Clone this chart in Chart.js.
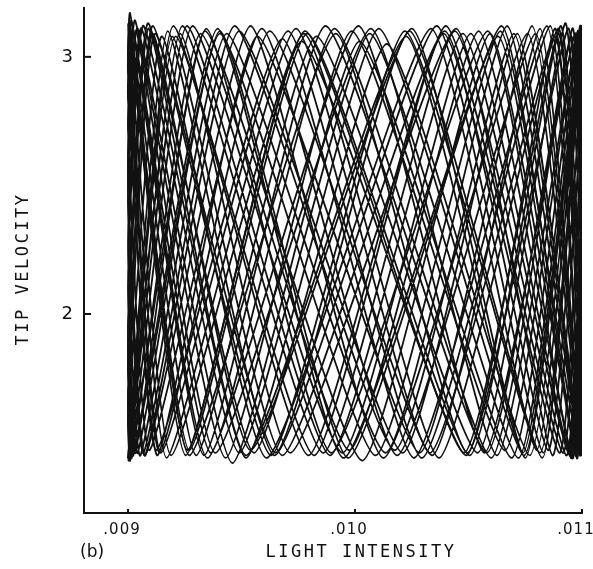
<!DOCTYPE html>
<html>
<head>
<meta charset="utf-8">
<script src="https://cdn.jsdelivr.net/npm/chart.js@4.4.1/dist/chart.umd.min.js"></script>
<style>
  html, body { margin: 0; padding: 0; background: #fff; }
  #wrap { width: 593px; height: 569px; }
</style>
</head>
<body>
<div id="wrap"><canvas id="tipChart" width="593" height="569"></canvas></div>
<script>
// axis ticks
const intensityTicks = [0.009, 0.010, 0.011];
const intensityTickLabels = ['.009', '.010', '.011'];
const velocityTicks = [2, 3];
const velocityTickLabels = ['2', '3'];

// trajectory in stretches (light intensity, tip velocity)
const intensity1 = [0.009000, 0.009262, 0.009765, 0.010490, 0.010880, 0.011000, 0.010977, 0.010595, 0.010032, 0.009340,
  0.009032, 0.009000, 0.009090, 0.009555, 0.010140, 0.010770, 0.010998, 0.010800, 0.010335, 0.009610,
  0.009150, 0.009000, 0.009009, 0.009285, 0.009945, 0.010510, 0.010945, 0.011000, 0.010950, 0.010580,
  0.009870, 0.009335, 0.009009, 0.009000, 0.009125, 0.009680, 0.010260, 0.010845, 0.010998, 0.010715,
  0.010210, 0.009490, 0.009075, 0.009000, 0.009032, 0.009430, 0.009985, 0.010660];
const velocity1 = [3.12, 1.47, 3.06, 1.45, 3.11, 1.83, 1.44, 3.09, 1.43, 3.10,
  1.46, 1.97, 3.13, 1.46, 3.05, 1.45, 3.12, 1.47, 3.11, 1.44,
  3.08, 1.61, 1.43, 3.12, 1.46, 3.09, 1.45, 2.27, 3.08, 1.46,
  3.12, 1.45, 3.17, 2.93, 1.47, 3.07, 1.44, 3.12, 1.46, 3.09,
  1.46, 3.10, 1.45, 2.57, 3.14, 1.44, 3.10, 1.47];

const intensity2 = [0.010977, 0.011000, 0.010915, 0.010400, 0.009820, 0.009210, 0.009000, 0.009230, 0.009715, 0.010445,
  0.010870, 0.011000, 0.010984, 0.010690, 0.010020, 0.009460, 0.009043, 0.009000, 0.009069, 0.009470,
  0.010175, 0.010700, 0.010995, 0.010860, 0.010295, 0.009705, 0.009145, 0.009005, 0.009300, 0.009830,
  0.010540, 0.010925, 0.011000, 0.010957, 0.010545, 0.009975, 0.009320, 0.009016, 0.009000, 0.009110,
  0.009630, 0.010220, 0.010815, 0.011000, 0.010750, 0.010250, 0.009540, 0.009110];
const velocity2 = [3.09, 2.71, 1.46, 3.12, 1.45, 3.08, 1.44, 3.09, 1.46, 3.11,
  1.45, 2.83, 3.10, 1.44, 3.06, 1.42, 3.11, 2.42, 1.46, 3.12,
  1.47, 3.09, 1.45, 3.12, 1.44, 3.10, 1.46, 3.15, 1.45, 3.08,
  1.46, 3.13, 2.12, 1.44, 3.10, 1.47, 3.09, 1.44, 1.71, 3.12,
  1.45, 3.10, 1.46, 3.10, 1.44, 3.11, 1.47, 3.09];

const intensity3 = [0.009000, 0.009023, 0.009395, 0.009950, 0.010630, 0.010968, 0.011000, 0.010905, 0.010505, 0.009790,
  0.009270, 0.009002, 0.009170, 0.009740, 0.010330, 0.010880, 0.011000, 0.010991, 0.010670, 0.010135,
  0.009435, 0.009055, 0.009000, 0.009060, 0.009490, 0.010065, 0.010720, 0.010991, 0.011000, 0.010850,
  0.010395, 0.009680, 0.009195, 0.009002, 0.009240, 0.009860, 0.010440, 0.010930, 0.011000, 0.010968,
  0.010570, 0.010015, 0.009350, 0.009023, 0.009000, 0.009095, 0.009590, 0.010185];
const velocity3 = [1.83, 1.45, 3.11, 1.44, 3.08, 1.46, 1.97, 3.12, 1.45, 3.09,
  1.47, 3.13, 1.44, 3.11, 1.46, 3.08, 1.61, 1.45, 3.12, 1.46,
  3.09, 1.45, 2.27, 3.11, 1.46, 3.09, 1.44, 3.12, 2.93, 1.47,
  3.10, 1.45, 3.08, 1.43, 3.12, 1.46, 3.10, 1.45, 2.57, 3.09,
  1.46, 3.12, 1.44, 3.10, 2.71, 1.47, 3.11, 1.45];

const intensity4 = [0.010795, 0.011000, 0.010780, 0.010285, 0.009570, 0.009130, 0.009000, 0.009016, 0.009365, 0.009910,
  0.010600, 0.010957, 0.011000, 0.010940, 0.010475, 0.009890, 0.009260, 0.009005, 0.009175, 0.009645,
  0.010360, 0.010830, 0.010995, 0.010745, 0.010105, 0.009520, 0.009069, 0.009000, 0.009043, 0.009405,
  0.010090, 0.010640, 0.010984, 0.011000, 0.010895, 0.010370, 0.009775, 0.009190, 0.009000];
const velocity4 = [3.09, 1.45, 3.12, 1.46, 3.08, 1.45, 2.83, 3.14, 1.46, 3.11,
  1.44, 3.11, 2.42, 1.46, 3.09, 1.45, 3.12, 1.44, 3.10, 1.45,
  3.12, 1.46, 3.10, 1.45, 3.11, 1.44, 3.12, 2.12, 1.46, 3.09,
  1.45, 3.10, 1.46, 1.71, 3.11, 1.44, 3.09, 1.45, 3.13];

// a second, later stretch of the trace
const intensity5 = [0.009001, 0.009255, 0.009780, 0.010480, 0.010895, 0.011000, 0.010972, 0.010645, 0.009970, 0.009405,
  0.009028, 0.009000, 0.009092, 0.009520, 0.010225, 0.010740, 0.010999, 0.010825, 0.010240, 0.009650,
  0.009120, 0.009000, 0.009012, 0.009345, 0.009895, 0.010585, 0.010951, 0.011000, 0.010938, 0.010495,
  0.009915, 0.009270, 0.009007, 0.009000, 0.009140, 0.009625, 0.010340, 0.010815, 0.010996, 0.010760,
  0.010125, 0.009540, 0.009076, 0.009000, 0.009037, 0.009385, 0.010070, 0.010625, 0.010981, 0.011000,
  0.010900, 0.010390, 0.009795, 0.009200, 0.009000];
const velocity5 = [3.11, 1.45, 3.10, 1.46, 3.09, 1.90, 1.45, 3.12, 1.44, 3.10,
  1.46, 1.90, 3.11, 1.45, 3.08, 1.46, 3.12, 1.44, 3.10, 1.46,
  3.09, 1.66, 1.45, 3.11, 1.46, 3.10, 1.44, 2.19, 3.11, 1.46,
  3.09, 1.45, 3.13, 2.98, 1.46, 3.10, 1.45, 3.11, 1.46, 3.09,
  1.44, 3.12, 1.45, 2.50, 3.10, 1.46, 3.11, 1.45, 3.10, 2.77,
  1.46, 3.09, 1.45, 3.12, 1.44];

const stretchA = {
    intensity: [...intensity1, ...intensity2, ...intensity3, ...intensity4],
    velocity: [...velocity1, ...velocity2, ...velocity3, ...velocity4]
};
const stretchB = { intensity: intensity5, velocity: velocity5 };
const toPoints = s => s.intensity.map((v, i) => ({ x: v, y: s.velocity[i] }));

const ink = '#111';

// inward tick marks, tick labels and axis titles
const axisDecor = {
    id: 'axisDecor',
    afterDraw(chart) {
        const { ctx, chartArea } = chart;
        const xs = chart.scales.x, ys = chart.scales.y;
        ctx.save();
        ctx.strokeStyle = ink;
        ctx.fillStyle = ink;
        ctx.lineWidth = 2;
        velocityTicks.forEach(v => {
            const py = ys.getPixelForValue(v);
            ctx.beginPath();
            ctx.moveTo(chartArea.left, py);
            ctx.lineTo(chartArea.left + 7, py);
            ctx.stroke();
        });
        intensityTicks.forEach(v => {
            const px = xs.getPixelForValue(v);
            ctx.beginPath();
            ctx.moveTo(px, chartArea.bottom);
            ctx.lineTo(px, chartArea.bottom - 4);
            ctx.stroke();
        });

        ctx.textBaseline = 'middle';
        ctx.font = '18px "DejaVu Sans"';
        ctx.textAlign = 'right';
        velocityTicks.forEach((v, i) => {
            ctx.fillText(velocityTickLabels[i], chartArea.left - 11, ys.getPixelForValue(v));
        });

        ctx.font = '15px "DejaVu Sans"';
        ctx.letterSpacing = '1px';
        ctx.textAlign = 'center';
        intensityTicks.forEach((v, i) => {
            ctx.fillText(intensityTickLabels[i], xs.getPixelForValue(v) - 6, chartArea.bottom + 17);
        });

        ctx.font = '17px "DejaVu Sans Mono"';
        ctx.letterSpacing = '2.5px';
        ctx.fillText('LIGHT INTENSITY', 361, 553);

        ctx.save();
        ctx.translate(24, 269);
        ctx.rotate(-Math.PI / 2);
        ctx.fillText('TIP VELOCITY', 0, 0);
        ctx.restore();

        ctx.letterSpacing = '0px';
        ctx.font = '17px "DejaVu Sans"';
        ctx.textAlign = 'left';
        ctx.fillText('(b)', 80, 553);
        ctx.restore();
    }
};

const traceStyle = {
    showLine: true,
    borderColor: ink,
    borderWidth: 1.8,
    pointRadius: 0,
    tension: 0.15,
    fill: false
};

const chart = new Chart(document.getElementById('tipChart'), {
    type: 'scatter',
    data: {
        datasets: [
            { ...traceStyle, data: toPoints(stretchA) },
            { ...traceStyle, data: toPoints(stretchB) }
        ]
    },
    options: {
        responsive: false,
        animation: false,
        devicePixelRatio: 1,
        layout: { padding: { left: 84, right: 11, top: 8, bottom: 56 } },
        plugins: { legend: { display: false }, tooltip: { enabled: false } },
        scales: {
            x: {
                type: 'linear',
                min: 0.008806,
                max: 0.011,
                ticks: { display: false },
                grid: { display: false, drawTicks: false },
                border: { display: true, color: ink, width: 2 }
            },
            y: {
                type: 'linear',
                min: 1.226,
                max: 3.19,
                ticks: { display: false },
                grid: { display: false, drawTicks: false },
                border: { display: true, color: ink, width: 2 }
            }
        }
    },
    plugins: [axisDecor]
});
</script>
</body>
</html>
